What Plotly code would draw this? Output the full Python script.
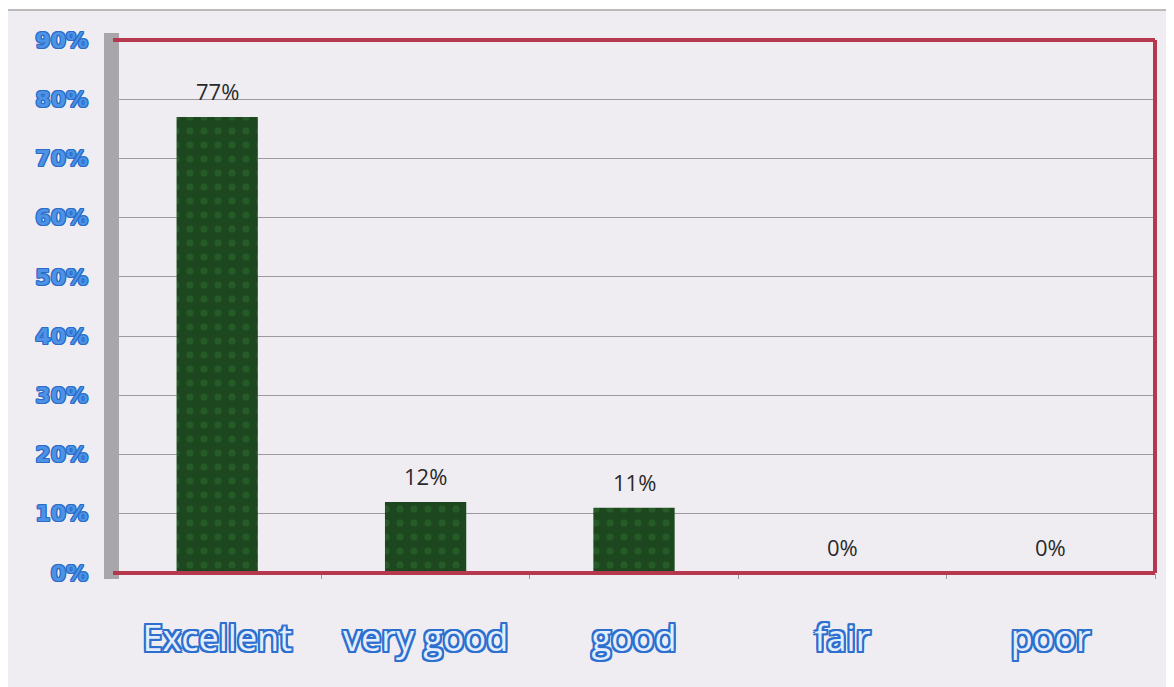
import plotly.graph_objects as go

categories = ["Excellent", "very good", "good", "fair", "poor"]
values = [77, 12, 11, 0, 0]
labels = ["77%", "12%", "11%", "0%", "0%"]
y_ticks = [0, 10, 20, 30, 40, 50, 60, 70, 80, 90]
y_tick_text = ["0%", "10%", "20%", "30%", "40%", "50%", "60%", "70%", "80%", "90%"]

def outline(c, w):
    offs = [(w, w), (-w, -w), (w, -w), (-w, w), (0, w), (0, -w), (w, 0), (-w, 0)]
    return ", ".join(f"{a}px {b}px 0 {c}" for a, b in offs)

fig = go.Figure(go.Bar(
    x=categories, y=values,
    marker=dict(color="#1f4b21", line=dict(width=0),
                pattern=dict(shape=".", fgcolor="#2e6e2e", bgcolor="#1d481f", size=14, solidity=0.2)),
    width=0.39,
    hoverinfo="skip",
))

annotations = [
    dict(x=c, y=v, text=t, showarrow=False, yanchor="bottom", yshift=9,
         font=dict(family="Open Sans", size=22, color="#2a2a2a"))
    for c, v, t in zip(categories, values, labels)
]

# plot area in figure pixels: the page adds an 8px body margin
PL, PT, PW, PH = 105, 32, 1042, 533

def px_x(p):
    return (p - 8 - PL) / PW

def px_y(p):
    return (PT + PH - (p - 8)) / PH

shapes = [
    dict(type="rect", xref="paper", yref="paper", layer="below",
         x0=px_x(7), x1=px_x(1250), y0=px_y(760), y1=px_y(10),
         fillcolor="#f0edf2", line=dict(color="#a8a8a8", width=1.5)),
    dict(type="rect", xref="paper", yref="paper", layer="above",
         x0=px_x(104), x1=px_x(119), y0=px_y(579), y1=px_y(33),
         fillcolor="#a9a6a9", line=dict(width=0)),
    dict(type="line", xref="paper", yref="paper", x0=0, x1=1, y0=1, y1=1,
         line=dict(color="#b5384f", width=4), layer="above"),
    dict(type="line", xref="paper", yref="paper", x0=1, x1=1, y0=0, y1=1,
         line=dict(color="#b5384f", width=4), layer="above"),
    dict(type="line", xref="paper", yref="paper", x0=0, x1=1, y0=0, y1=0,
         line=dict(color="#b5384f", width=4), layer="above"),
]

fig.update_layout(
    width=1166, height=679,
    margin=dict(l=PL, r=1166 - PL - PW, t=PT, b=679 - PT - PH),
    paper_bgcolor="white",
    plot_bgcolor="rgba(0,0,0,0)",
    showlegend=False,
    shapes=shapes,
    annotations=annotations,
)

fig.update_xaxes(
    type="category", tickson="boundaries", ticks="outside", ticklen=5,
    tickcolor="#9a9a9a", showgrid=False, showline=False,
    ticklabelstandoff=41,
    tickfont=dict(family="Open Sans", size=36, color="#e3edfb", shadow=outline("#2c6fcf", 2)),
)

fig.update_yaxes(
    range=[0, 90], tickvals=y_ticks, ticktext=y_tick_text,
    showgrid=True, gridcolor="#9c9a9e", gridwidth=1, zeroline=False,
    showline=False, ticks="", ticklabelstandoff=24,
    tickfont=dict(family="DejaVu Sans", size=22, color="#4d92e4", weight="bold",
                  shadow=outline("#2a6cc9", 1)),
)

fig.write_html("out.html")
